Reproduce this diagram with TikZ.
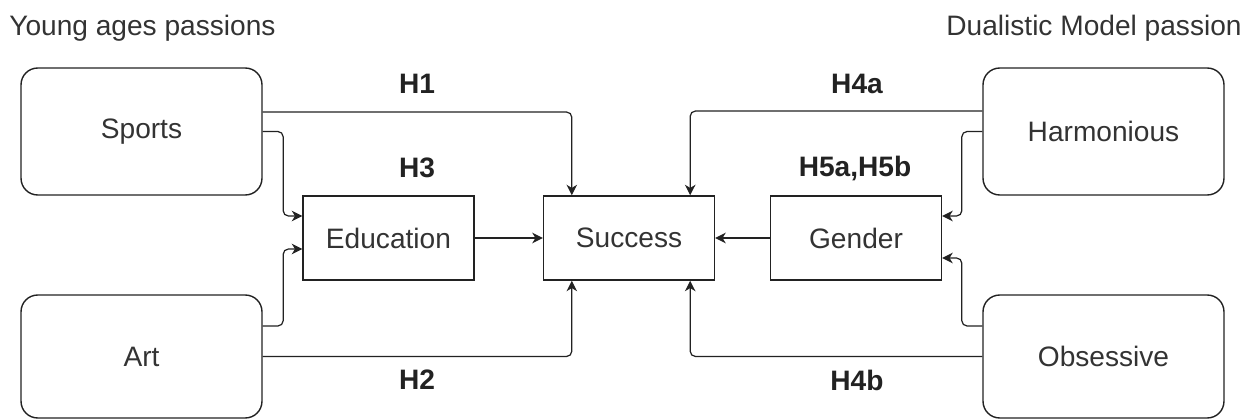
\documentclass[tikz,border=0pt]{standalone}
\usepackage{fontspec}
\setmainfont{Liberation Sans}
\usetikzlibrary{arrows.meta}
\definecolor{ink}{RGB}{34,34,34}
\definecolor{word}{RGB}{51,51,51}

\begin{document}
\begin{tikzpicture}[x=.02cm,y=-.02cm,
	every node/.style={font=\fontsize{16}{19.2}\selectfont,text=word},
	passion/.style={draw=ink,line width=.8pt,rounded corners=9.5pt,minimum width=4.82cm},
	factor/.style={draw=ink,line width=.8pt,minimum width=3.42cm,minimum height=1.68cm},
	hyp/.style={font=\fontsize{16}{19.2}\selectfont\bfseries,text=ink},
	link/.style={draw=ink,line width=.7pt,rounded corners=3pt,-{Stealth[length=6pt,width=6pt,inset=1.8pt]}}]
	\useasboundingbox (0,0) rectangle (1249,419);

	\node [anchor=base west,inner sep=0] (young) at (9,35) {Young ages passions};
	\node [anchor=base east,inner sep=0] (dualistic) at (1242,35) {Dualistic Model passion};

	\node [passion,minimum height=2.54cm] (sports) at (141.5,131.5) {Sports};
	\node [passion,minimum height=2.46cm] (art) at (141.5,356.5) {Art};
	\node [passion,minimum height=2.54cm] (harmonious) at (1103.5,131.5) {Harmonious};
	\node [passion,minimum height=2.46cm] (obsessive) at (1103.5,356.5) {Obsessive};

	\node [factor] (education) at (388.5,238) {Education};
	\node [factor] (success) at (629,238) {Success};
	\node [factor] (gender) at (856,238) {Gender};

	\node [hyp] (h1) at (417,84) {H1};
	\node [hyp] (h3) at (417,168) {H3};
	\node [hyp] (h2) at (417,380) {H2};
	\node [hyp] (h4a) at (857,84) {H4a};
	\node [hyp] (h5) at (855,168) {H5a,H5b};
	\node [hyp] (h4b) at (857,380) {H4b};

	\draw [link] ([yshift=.39cm]sports.east) -| ([xshift=.58cm]success.north west);
	\draw [link] (sports.east) -- ++(20.5,0) |- ([yshift=.44cm]education.west);
	\draw [link] ([yshift=.61cm]art.east) -- ++(20.5,0) |- ([yshift=-.22cm]education.west);
	\draw [link] (art.east) -| ([xshift=.58cm]success.south west);
	\draw [link] (education) -- (success);

	\draw [link] ([yshift=.41cm]harmonious.west) -| ([xshift=-.5cm]success.north east);
	\draw [link] (harmonious.west) -- ++(-20.5,0) |- ([yshift=.44cm]gender.east);
	\draw [link] ([yshift=.61cm]obsessive.west) -- ++(-20.5,0) |- ([yshift=-.4cm]gender.east);
	\draw [link] (obsessive.west) -| ([xshift=-.5cm]success.south east);
	\draw [link] (gender) -- (success);
\end{tikzpicture}
\end{document}
